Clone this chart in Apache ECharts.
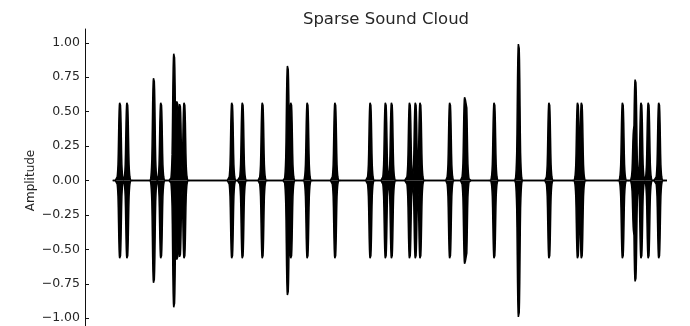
<!DOCTYPE html>
<html>
<head>
<meta charset="utf-8">
<script src="https://cdn.jsdelivr.net/npm/echarts@6/dist/echarts.min.js"></script>
<style>
  html, body { margin: 0; padding: 0; background: #fff; overflow: hidden; }
  #chart { width: 690px; height: 332px; }
</style>
</head>
<body>
<div id="chart"></div>
<script>
// Grain onsets (seconds) and peak amplitudes of the sparse cloud
const grainTimes = [
  0.13, 0.26, 0.74, 0.87, 1.105, 1.16, 1.21, 1.29,
  2.15, 2.34, 2.70, 3.155, 3.215, 3.51, 4.01,
  4.645, 4.92, 5.03, 5.355, 5.46, 5.545, 6.08, 6.35, 6.37,
  6.88, 7.32, 7.87, 8.385, 8.455,
  9.195, 9.40, 9.425, 9.53, 9.66, 9.85
];
const grainAmps = [
  0.57, 0.57, 0.75, 0.57, 0.93, 0.58, 0.56, 0.57,
  0.57, 0.57, 0.57, 0.84, 0.57, 0.57, 0.57,
  0.57, 0.57, 0.57, 0.57, 0.57, 0.57, 0.57, 0.61, 0.60,
  0.57, 1.00, 0.57, 0.57, 0.57,
  0.57, 0.38, 0.74, 0.57, 0.57, 0.57
];
const signalDuration = 10;
const yTicks = [-1, -0.75, -0.5, -0.25, 0, 0.25, 0.5, 0.75, 1];

// Half of the symmetric grain window, one entry per sample
const grainWindow = [1, 0.99, 0.96, 0.88, 0.74, 0.54, 0.34, 0.2, 0.13, 0.08, 0.045, 0.02, 0.008, 0];
const sampleStep = 0.005;

// Peak envelope of the cloud; where grains overlap the stronger one wins.
const sampleCount = Math.round(signalDuration / sampleStep) + 1;
const env = new Array(sampleCount).fill(0);
const half = grainWindow.length - 1;
grainTimes.forEach((t, g) => {
  const c = Math.round(t / sampleStep);
  for (let k = -half; k <= half; k++) {
    const idx = c + k;
    if (idx < 0 || idx >= sampleCount) continue;
    const v = grainAmps[g] * grainWindow[Math.abs(k)];
    if (v > env[idx]) env[idx] = v;
  }
});
// The dense oscillation fills the envelope, so draw it as its upper and lower halves.
const upper = env.map((v, i) => [i * sampleStep, v]);
const lower = env.map((v, i) => [i * sampleStep, -v]);

const fmt = v => (v < 0 ? '\u2212' : '') + Math.abs(v).toFixed(2);
const textColor = '#262626';
const fontFamily = 'DejaVu Sans, sans-serif';

const waveSeries = data => ({
  type: 'line',
  data,
  showSymbol: false,
  sampling: null,
  lineStyle: { color: '#000', width: 1.5 },
  areaStyle: { color: '#000', opacity: 1, origin: 0 },
  silent: true
});

const chart = echarts.init(document.getElementById('chart'), null, { renderer: 'canvas' });
chart.setOption({
  animation: false,
  backgroundColor: '#fff',
  title: {
    text: 'Sparse Sound Cloud',
    left: 381,
    textAlign: 'center',
    top: 6,
    textStyle: { fontFamily, fontSize: 16.5, fontWeight: 'normal', color: textColor }
  },
  grid: { left: 85, right: 0, top: 29, bottom: 0 },
  xAxis: {
    type: 'value',
    min: -0.5,
    max: 10.41,
    show: false
  },
  yAxis: {
    type: 'value',
    min: -1.1,
    max: 1.1,
    name: 'Amplitude',
    nameLocation: 'middle',
    nameGap: 48,
    nameMoveOverlap: false,
    nameTextStyle: { fontFamily, fontSize: 12, color: textColor },
    axisLine: { show: true, onZero: false, lineStyle: { color: '#111', width: 1 } },
    axisTick: { show: true, inside: true, length: 4, customValues: yTicks, lineStyle: { color: '#111' } },
    axisLabel: {
      customValues: yTicks, formatter: fmt, margin: 5,
      fontFamily, fontSize: 12.5, color: textColor
    },
    splitLine: { show: false }
  },
  series: [waveSeries(upper), waveSeries(lower)]
});
</script>
</body>
</html>
